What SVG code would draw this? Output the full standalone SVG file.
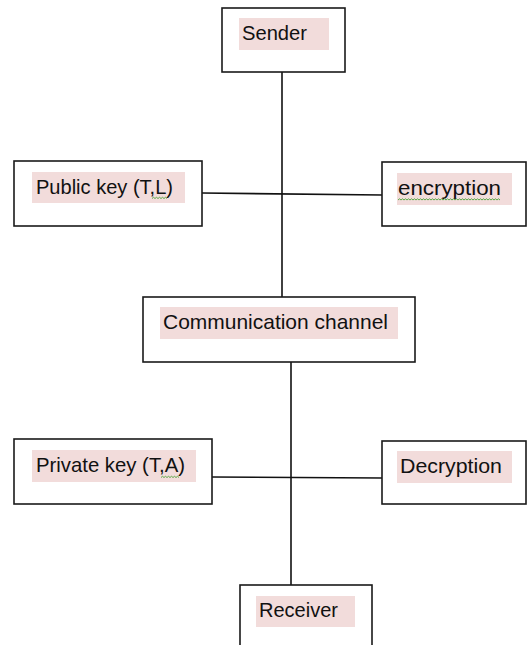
<svg xmlns="http://www.w3.org/2000/svg" width="527" height="645" viewBox="0 0 527 645">
<style>
.box{fill:#fff;stroke:#1a1a1a;stroke-width:1.6}
.hl{fill:#f2dcdb}
.t{font-family:"Liberation Sans",Arial,sans-serif;font-size:21px;fill:#111}
.ln{stroke:#111;stroke-width:1.6;fill:none}
.sq{stroke:#5aa846;stroke-width:1;fill:none}
</style>
<rect width="527" height="645" fill="#fff"/>
<g id="connectors">
<line class="ln" x1="282" y1="72" x2="282" y2="297"/>
<line class="ln" x1="202" y1="193" x2="382" y2="195"/>
<line class="ln" x1="291" y1="362" x2="291" y2="585"/>
<line class="ln" x1="212" y1="477" x2="382" y2="478"/>
</g>
<g id="sender">
<rect class="box" x="222" y="8" width="123" height="64"/>
<rect class="hl" x="239" y="18" width="90" height="32"/>
<text class="t" x="242" y="40" textLength="65" lengthAdjust="spacingAndGlyphs">Sender</text>
</g>
<g id="public-key">
<rect class="box" x="14" y="161" width="188" height="65"/>
<rect class="hl" x="32" y="172" width="153" height="31"/>
<text class="t" x="36" y="194" textLength="137" lengthAdjust="spacingAndGlyphs">Public key (T,L)</text>
<path class="sq" d="M152 198.5 l1.5 -1.2 l1.5 1.2 l1.5 -1.2 l1.5 1.2 l1.5 -1.2 l1.5 1.2 l1.5 -1.2 l1.5 1.2 l1.5 -1.2 l1.5 1.2"/>
</g>
<g id="encryption">
<rect class="box" x="382" y="162" width="144" height="64"/>
<rect class="hl" x="397" y="173" width="115" height="32"/>
<text class="t" x="398" y="195" textLength="103" lengthAdjust="spacingAndGlyphs">encryption</text>
<path class="sq" d="M398 200 l1.5 -1.2 l1.5 1.2 l1.5 -1.2 l1.5 1.2 l1.5 -1.2 l1.5 1.2 l1.5 -1.2 l1.5 1.2 l1.5 -1.2 l1.5 1.2 l1.5 -1.2 l1.5 1.2 l1.5 -1.2 l1.5 1.2 l1.5 -1.2 l1.5 1.2 l1.5 -1.2 l1.5 1.2 l1.5 -1.2 l1.5 1.2 l1.5 -1.2 l1.5 1.2 l1.5 -1.2 l1.5 1.2 l1.5 -1.2 l1.5 1.2 l1.5 -1.2 l1.5 1.2 l1.5 -1.2 l1.5 1.2 l1.5 -1.2 l1.5 1.2 l1.5 -1.2 l1.5 1.2 l1.5 -1.2 l1.5 1.2 l1.5 -1.2 l1.5 1.2 l1.5 -1.2 l1.5 1.2 l1.5 -1.2 l1.5 1.2 l1.5 -1.2 l1.5 1.2 l1.5 -1.2 l1.5 1.2 l1.5 -1.2 l1.5 1.2 l1.5 -1.2 l1.5 1.2 l1.5 -1.2 l1.5 1.2 l1.5 -1.2 l1.5 1.2 l1.5 -1.2 l1.5 1.2 l1.5 -1.2 l1.5 1.2 l1.5 -1.2 l1.5 1.2 l1.5 -1.2 l1.5 1.2 l1.5 -1.2 l1.5 1.2 l1.5 -1.2 l1.5 1.2 l1.5 -1.2 l1.5 1.2"/>
</g>
<g id="communication-channel">
<rect class="box" x="143" y="297" width="272" height="65"/>
<rect class="hl" x="160" y="307" width="238" height="32"/>
<text class="t" x="163" y="329" textLength="225" lengthAdjust="spacingAndGlyphs">Communication channel</text>
</g>
<g id="private-key">
<rect class="box" x="14" y="439" width="198" height="65"/>
<rect class="hl" x="32" y="450" width="164" height="32"/>
<text class="t" x="36" y="472" textLength="149" lengthAdjust="spacingAndGlyphs">Private key (T,A)</text>
<path class="sq" d="M161 477.5 l1.5 -1.2 l1.5 1.2 l1.5 -1.2 l1.5 1.2 l1.5 -1.2 l1.5 1.2 l1.5 -1.2 l1.5 1.2 l1.5 -1.2 l1.5 1.2 l1.5 -1.2 l1.5 1.2"/>
</g>
<g id="decryption">
<rect class="box" x="382" y="441" width="144" height="63"/>
<rect class="hl" x="397" y="451" width="115" height="32"/>
<text class="t" x="400" y="473" textLength="102" lengthAdjust="spacingAndGlyphs">Decryption</text>
</g>
<g id="receiver">
<rect class="box" x="240" y="585" width="132" height="70"/>
<rect class="hl" x="256" y="596" width="99" height="31"/>
<text class="t" x="259" y="617" textLength="79" lengthAdjust="spacingAndGlyphs">Receiver</text>
</g>
</svg>
